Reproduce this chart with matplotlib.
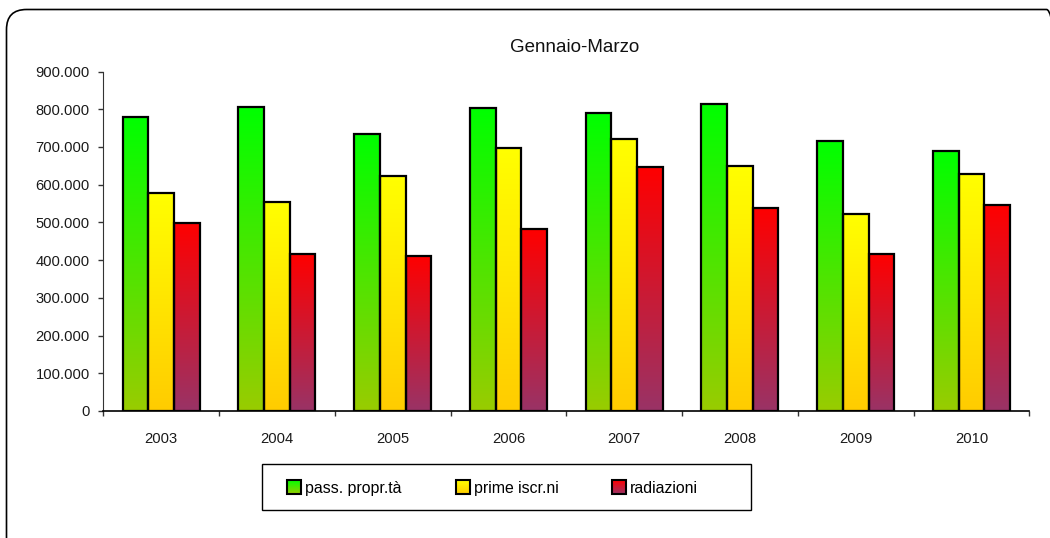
import numpy as np
import matplotlib.pyplot as plt
from matplotlib import font_manager
from matplotlib.colors import to_rgb
from matplotlib.patches import Rectangle, FancyBboxPatch
from matplotlib.legend_handler import HandlerBase
from matplotlib.ticker import FuncFormatter, FixedLocator

# the original text is a narrow arial look; use Liberation Sans Narrow if it is there
installed = {f.name for f in font_manager.fontManager.ttflist}
if 'Liberation Sans Narrow' in installed:
    plt.rcParams['font.family'] = ['Liberation Sans Narrow', 'DejaVu Sans']
    scale = 1.0
else:
    plt.rcParams['font.family'] = ['Liberation Sans', 'DejaVu Sans']
    scale = 0.82

years = ["2003", "2004", "2005", "2006", "2007", "2008", "2009", "2010"]
pass_propr = [780000, 805000, 733000, 803000, 790000, 814000, 717000, 690000]
prime_iscr = [578000, 555000, 622000, 698000, 721000, 649000, 521000, 629000]
radiazioni = [499000, 416000, 412000, 482000, 648000, 539000, 417000, 545000]
series_names = ["pass. propr.tà", "prime iscr.ni", "radiazioni"]

# excel style two colour gradients, top -> bottom
grad_top = ["#00FF00", "#FFFF00", "#FF0000"]
grad_bottom = ["#99CC00", "#FFCC00", "#993366"]

PX = 72 / 100  # points per pixel at dpi 100


def gradient(top, bottom, n=200):
    t = np.linspace(0, 1, n)[:, None]
    c0 = np.array(to_rgb(top))
    c1 = np.array(to_rgb(bottom))
    return (c0 * (1 - t) + c1 * t)[:, None, :]


class GradHandler(HandlerBase):
    def __init__(self, top, bottom):
        super().__init__()
        self.top = top
        self.bottom = bottom

    def create_artists(self, legend, orig_handle, xdescent, ydescent,
                       width, height, fontsize, trans):
        side = 14 * PX
        x0 = -xdescent
        y0 = -ydescent + (height - side) / 2
        n = 14
        arts = []
        c0 = np.array(to_rgb(self.top))
        c1 = np.array(to_rgb(self.bottom))
        for i in range(n):
            t = (i + 0.5) / n
            col = c1 * (1 - t) + c0 * t
            arts.append(Rectangle((x0, y0 + side * i / n), side, side / n + 0.3,
                                  facecolor=col, edgecolor='none', transform=trans))
        arts.append(Rectangle((x0, y0), side, side, facecolor='none',
                              edgecolor='black', lw=1.5, transform=trans))
        return arts


fs_tick = 13 * scale
fs_title = 16.5 * scale
fs_leg = 14 * scale

fig = plt.figure(figsize=(10.5, 5.38), dpi=100)
ax = fig.add_axes([0.0984, 0.2361, 0.8819, 0.6310])

x = np.arange(len(years))
w = 0.222
data = [pass_propr, prime_iscr, radiazioni]
for k, vals in enumerate(data):
    img = gradient(grad_top[k], grad_bottom[k])
    for i, v in enumerate(vals):
        left = x[i] + (k - 1.5) * w
        ax.imshow(img, extent=(left, left + w, 0, v), aspect='auto',
                  interpolation='bilinear', zorder=2)
    ax.bar(x + (k - 1) * w, vals, width=w, facecolor='none',
           edgecolor='black', linewidth=1.6, zorder=3)

ax.set_xlim(-0.5, len(years) - 0.5)
ax.set_ylim(0, 900000)
ax.set_yticks(np.arange(0, 900001, 100000))
ax.yaxis.set_major_formatter(FuncFormatter(lambda v, p: f"{int(v):,}".replace(",", ".")))

ax.xaxis.set_major_locator(FixedLocator(np.arange(-0.5, len(years), 1.0)))
ax.xaxis.set_major_formatter(FuncFormatter(lambda v, p: ""))
ax.xaxis.set_minor_locator(FixedLocator(x))
ax.set_xticklabels(years, minor=True)
ax.tick_params(axis='x', which='minor', length=0, pad=15, labelsize=fs_tick, labelcolor='#1a1a1a')
ax.tick_params(axis='x', which='major', length=3.6, direction='out', width=1, color='#333333')
ax.tick_params(axis='y', length=3.6, width=1, labelsize=fs_tick, labelcolor='#1a1a1a', pad=6, color='#333333')

for s in ['top', 'right']:
    ax.spines[s].set_visible(False)
ax.spines['left'].set_color('#333333')
ax.spines['bottom'].set_color('black')
ax.spines['bottom'].set_linewidth(1.2)

fig.text(575 / 1050, 1 - 47 / 538, "Gennaio-Marzo", ha='center', va='center',
         fontsize=fs_title, color='#111111')

handles = [Rectangle((0, 0), 1, 1) for _ in series_names]
hmap = {h: GradHandler(grad_top[i], grad_bottom[i]) for i, h in enumerate(handles)}
fig.legend(handles, series_names, handler_map=hmap, ncol=3, frameon=False,
           loc='center left', bbox_to_anchor=(287 / 1050, 1 - 488 / 538),
           bbox_transform=fig.transFigure, fontsize=fs_leg, borderpad=0,
           borderaxespad=0, handlelength=14 * PX / fs_leg, handleheight=14 * PX / fs_leg,
           handletextpad=4 * PX / fs_leg, columnspacing=54 * PX / fs_leg)
fig.add_artist(Rectangle((261.7 / 1050, 1 - 510 / 538), 489 / 1050, 46 / 538,
                         transform=fig.transFigure, facecolor='none',
                         edgecolor='black', lw=1))

# rounded outer frame (runs off the right/bottom edge like the original)
frame = FancyBboxPatch((0.065, -0.2), 10.6, 5.285 + 0.2,
                       boxstyle="round,pad=0,rounding_size=0.2",
                       transform=fig.dpi_scale_trans, facecolor='none',
                       edgecolor='black', lw=1.2, clip_on=False)
fig.add_artist(frame)

plt.savefig("out.png", dpi=100)
